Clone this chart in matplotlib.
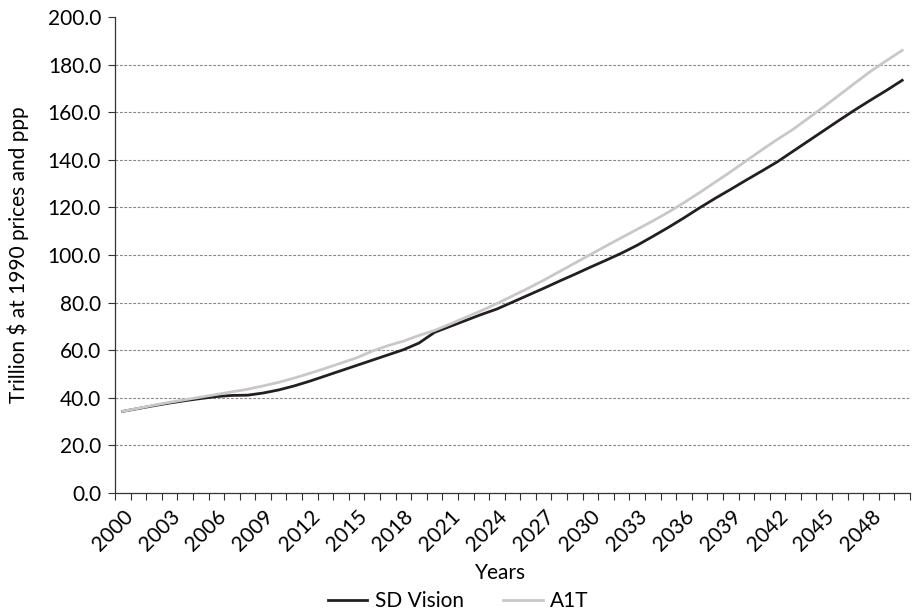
import matplotlib
matplotlib.use("Agg")
import matplotlib.pyplot as plt
import numpy as np

years = list(range(2000, 2051))
sd_vision = [34.3, 35.5, 36.7, 37.8, 38.8, 39.7, 40.5, 41.0, 41.1, 42.0,
             43.3, 45.0, 47.0, 49.2, 51.4, 53.6, 55.8, 58.0, 60.2, 63.0,
             67.5, 70.0, 72.5, 75.0, 77.3, 80.2, 83.1, 86.0, 89.0, 91.9,
             94.9, 97.8, 100.8, 104.1, 107.8, 111.6, 115.6, 119.8, 123.8, 127.6,
             131.5, 135.3, 139.2, 143.6, 148.0, 152.4, 156.8, 161.1, 165.2, 169.2,
             173.4]
a1t = [34.3, 35.6, 36.9, 38.1, 39.2, 40.3, 41.4, 42.5, 43.6, 45.0,
       46.5, 48.3, 50.3, 52.4, 54.6, 56.8, 59.6, 61.9, 63.8, 66.2,
       68.3, 71.0, 73.8, 76.6, 79.6, 82.8, 86.0, 89.4, 93.0, 96.6,
       100.2, 103.8, 107.3, 110.8, 114.3, 118.0, 122.0, 126.2, 130.6, 135.0,
       139.6, 144.2, 148.6, 152.8, 157.6, 162.4, 167.4, 172.4, 177.3, 181.7,
       186.0]
y_ticks = [0, 20, 40, 60, 80, 100, 120, 140, 160, 180, 200]

plt.rcParams['font.family'] = ['Lato', 'DejaVu Sans']
FS = 15

fig = plt.figure(figsize=(9.13, 6.13), dpi=100)
ax = fig.add_axes([115/913, 1-493/613, 795/913, 476/613])

ax.plot(years, sd_vision, color='#231f20', lw=2.0, label='SD Vision', solid_joinstyle='round')
ax.plot(years, a1t, color='#c8c8c8', lw=2.0, label='A1T', solid_joinstyle='round')

ax.set_xlim(years[0]-0.5, years[-1]+0.5)
ax.set_ylim(0, 200)
ax.set_yticks(y_ticks)
ax.set_yticklabels([f"{v:.1f}" for v in y_ticks], fontsize=FS)
for v in y_ticks[1:-1]:
    ax.axhline(v, color='#888888', lw=0.8, ls=(0, (2.5, 1.5)), zorder=0)

ax.set_xticks(years[::3])
ax.set_xticklabels([str(y) for y in years[::3]], rotation=45, ha='right',
                   rotation_mode='anchor', fontsize=FS)
ax.set_xticks([y-0.5 for y in years] + [years[-1]+0.5], minor=True)
ax.tick_params(axis='x', which='major', length=0, pad=10)
ax.tick_params(axis='x', which='minor', length=5, width=0.8, color='#333333', direction='out')
ax.tick_params(axis='y', length=5, width=0.8, color='#333333', pad=5)

for s in ['top', 'right']:
    ax.spines[s].set_visible(False)
for s in ['left', 'bottom']:
    ax.spines[s].set_color('#333333')
    ax.spines[s].set_linewidth(0.9)

fig.text(18/913, 1-255/613, 'Trillion $ at 1990 prices and ppp', rotation=90,
         ha='center', va='center', fontsize=FS)
fig.text(0.548, 1-573/613, 'Years', ha='center', va='center', fontsize=FS)

fig.legend(loc='center', bbox_to_anchor=(0.502, 1-601/613), ncol=2, frameon=False,
           fontsize=FS, handlelength=1.9, columnspacing=1.9, handletextpad=0.35)

fig.savefig('out.png', dpi=100)
